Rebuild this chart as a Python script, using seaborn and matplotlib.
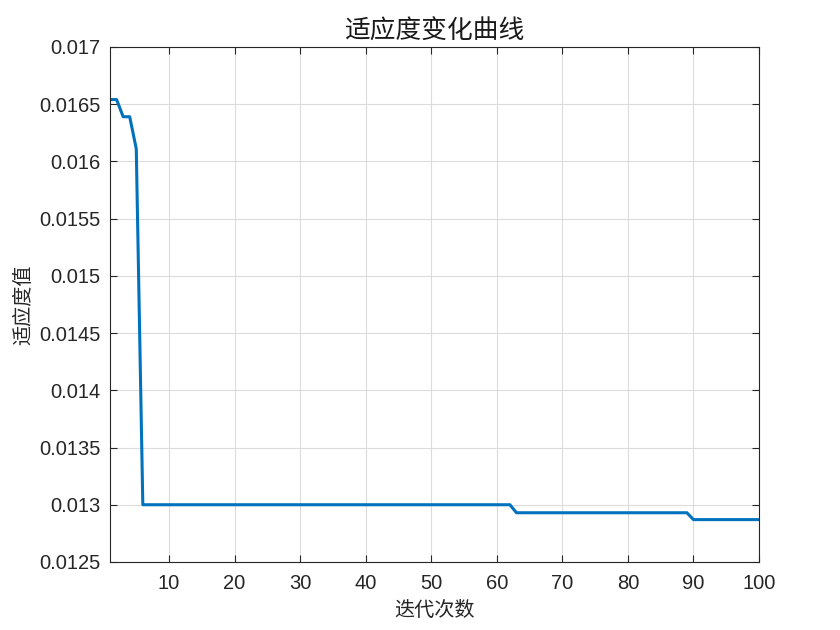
import numpy as np
import pandas as pd
import matplotlib
matplotlib.use('Agg')
import matplotlib.pyplot as plt
import seaborn as sns

# fitness per iteration
iterations = list(range(1, 101))
fitness = [
    0.01654, 0.01654, 0.01639, 0.01639, 0.01611, 0.01300, 0.01300, 0.01300, 0.01300, 0.01300,
    0.01300, 0.01300, 0.01300, 0.01300, 0.01300, 0.01300, 0.01300, 0.01300, 0.01300, 0.01300,
    0.01300, 0.01300, 0.01300, 0.01300, 0.01300, 0.01300, 0.01300, 0.01300, 0.01300, 0.01300,
    0.01300, 0.01300, 0.01300, 0.01300, 0.01300, 0.01300, 0.01300, 0.01300, 0.01300, 0.01300,
    0.01300, 0.01300, 0.01300, 0.01300, 0.01300, 0.01300, 0.01300, 0.01300, 0.01300, 0.01300,
    0.01300, 0.01300, 0.01300, 0.01300, 0.01300, 0.01300, 0.01300, 0.01300, 0.01300, 0.01300,
    0.01300, 0.01300, 0.01293, 0.01293, 0.01293, 0.01293, 0.01293, 0.01293, 0.01293, 0.01293,
    0.01293, 0.01293, 0.01293, 0.01293, 0.01293, 0.01293, 0.01293, 0.01293, 0.01293, 0.01293,
    0.01293, 0.01293, 0.01293, 0.01293, 0.01293, 0.01293, 0.01293, 0.01293, 0.01293, 0.01287,
    0.01287, 0.01287, 0.01287, 0.01287, 0.01287, 0.01287, 0.01287, 0.01287, 0.01287, 0.01287,
]
x_ticks = [10, 20, 30, 40, 50, 60, 70, 80, 90, 100]
y_ticks = [0.0125, 0.013, 0.0135, 0.014, 0.0145, 0.015, 0.0155, 0.016, 0.0165, 0.017]
y_tick_labels = ['0.0125', '0.013', '0.0135', '0.014', '0.0145', '0.015', '0.0155', '0.016', '0.0165', '0.017']

df = pd.DataFrame({'iter': iterations, 'fitness': fitness})

sns.set_style('white')
plt.rcParams['font.family'] = ['Liberation Sans', 'Noto Sans CJK SC', 'DejaVu Sans']

fig = plt.figure(figsize=(8.4, 6.3), dpi=100)
ax = fig.add_axes([0.131, 0.108, 0.7726, 0.8175])

sns.lineplot(data=df, x='iter', y='fitness', ax=ax, color='#0072BD', linewidth=2.2)

ax.set_xlim(1, 100)
ax.set_ylim(0.0125, 0.017)
ax.set_xticks(x_ticks)
ax.set_yticks(y_ticks)
ax.set_yticklabels(y_tick_labels)
ax.grid(True, color='#dcdcdc', linewidth=0.8)
ax.tick_params(direction='in', length=5, labelsize=14.5, colors='#262626',
               top=True, right=True, left=True, bottom=True)
ax.tick_params(axis='y', pad=7)
ax.tick_params(axis='x', pad=9)
for s in ax.spines.values():
    s.set_color('#262626')
    s.set_linewidth(0.8)

cjk = ['Noto Sans CJK SC', 'DejaVu Sans']
ax.set_title('适应度变化曲线', fontsize=18.5, family=cjk, pad=6, color='#1a1a1a')
ax.set_xlabel('迭代次数', fontsize=14.5, family=cjk, labelpad=5, color='#262626')
ax.set_ylabel('适应度值', fontsize=14.5, family=cjk, labelpad=3.5, color='#262626')

fig.savefig('out.png', dpi=100)
